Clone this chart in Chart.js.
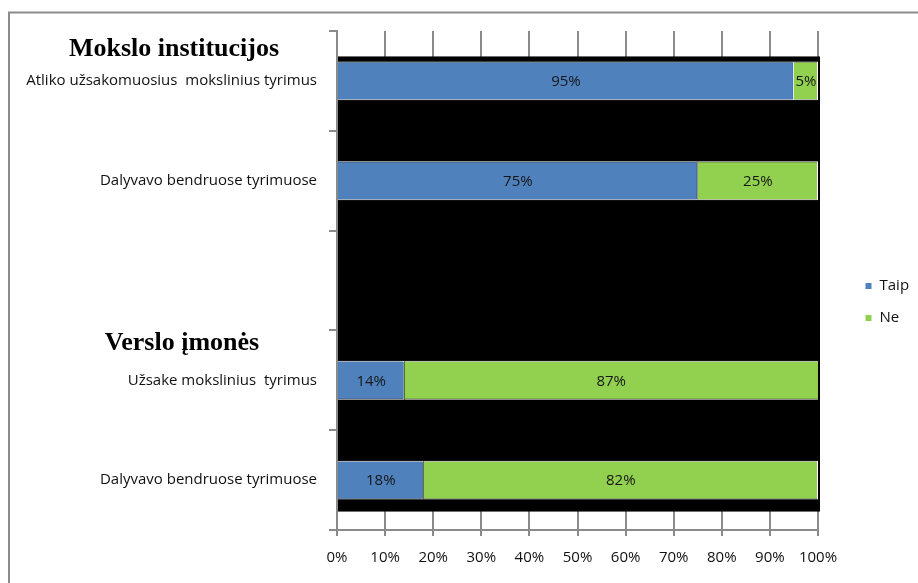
<!DOCTYPE html>
<html lang="lt">
<head>
<meta charset="utf-8">
<title>Užsakomieji ir bendri moksliniai tyrimai</title>
<script src="https://cdn.jsdelivr.net/npm/chart.js@4.4.1/dist/chart.umd.min.js"></script>
<style>
  html, body { margin: 0; padding: 0; background: #fff; }
  #wrap { position: relative; width: 918px; height: 583px; }
</style>
</head>
<body>
<div id="wrap"><canvas id="chart" width="918" height="583"></canvas></div>
<script>
// Survey rows (the empty row separates the two groups)
const categories = [
  'Atliko užsakomuosius  mokslinius tyrimus',
  'Dalyvavo bendruose tyrimuose',
  '',
  'Užsake mokslinius  tyrimus',
  'Dalyvavo bendruose tyrimuose'
];
const taip = [95, 75, null, 14, 18];
const ne = [5, 25, null, 87, 82];
const seriesNames = ['Taip', 'Ne'];
const groupTitles = ['Mokslo institucijos', 'Verslo įmonės'];
const xTicks = [0, 10, 20, 30, 40, 50, 60, 70, 80, 90, 100];

const BLUE = '#4F81BD';
const GREEN = '#92D050';
const AXIS_GRAY = '#8a8a8a';
const LABEL_FONT = { family: '"Open Sans", sans-serif', size: 15 };

// Outer frame and white page
const framePlugin = {
  id: 'frame',
  beforeDraw(chart) {
    const ctx = chart.ctx;
    ctx.save();
    ctx.fillStyle = '#fff';
    ctx.fillRect(0, 0, chart.width, chart.height);
    ctx.strokeStyle = '#8c8c8c';
    ctx.lineWidth = 2;
    ctx.beginPath();
    ctx.moveTo(9, chart.height);
    ctx.lineTo(9, 12.5);
    ctx.lineTo(chart.width, 12.5);
    ctx.stroke();
    ctx.restore();
  }
};

// Dark band behind the bars, sized from the first and last bar
const bandPlugin = {
  id: 'band',
  beforeDatasetsDraw(chart) {
    const bars = chart.getDatasetMeta(0).data.filter(b => b && !isNaN(b.y) && b.height);
    if (!bars.length) return;
    const first = bars[0], last = bars[bars.length - 1];
    const top = first.y - first.height / 2 - 5;
    const bottom = last.y + last.height / 2 + 12;
    const a = chart.chartArea;
    const ctx = chart.ctx;
    ctx.save();
    ctx.fillStyle = '#000';
    ctx.fillRect(a.left + 1, top, a.right - a.left + 1, bottom - top);
    ctx.restore();
  }
};

// Percent labels centred in each segment
const valueLabelPlugin = {
  id: 'valueLabels',
  afterDatasetsDraw(chart) {
    const ctx = chart.ctx;
    ctx.save();
    ctx.font = `${LABEL_FONT.size}px ${LABEL_FONT.family}`;
    ctx.fillStyle = '#161616';
    ctx.textAlign = 'center';
    ctx.textBaseline = 'middle';
    chart.data.datasets.forEach((ds, di) => {
      chart.getDatasetMeta(di).data.forEach((bar, i) => {
        const v = ds.data[i];
        if (v === null || v === undefined) return;
        const left = Math.min(bar.base, bar.x);
        const right = Math.min(Math.max(bar.base, bar.x), chart.chartArea.right);
        ctx.fillText(v + '%', (left + right) / 2, bar.y + 1);
      });
    });
    ctx.restore();
  }
};

// Group headings placed against the category scale
const groupTitlePlugin = {
  id: 'groupTitles',
  afterDraw(chart, args, opts) {
    const y = chart.scales.y;
    const ctx = chart.ctx;
    ctx.save();
    ctx.font = 'bold 26px "Liberation Serif", "Times New Roman", serif';
    ctx.fillStyle = '#000';
    ctx.textAlign = 'center';
    ctx.textBaseline = 'alphabetic';
    groupTitles.forEach((t, i) => {
      const p = opts.places[i];
      ctx.fillText(t, p.x, y.getPixelForValue(p.at));
    });
    ctx.restore();
  }
};

// Legend sits in a fixed-width column to the right of the plot
const legendPlacePlugin = {
  id: 'legendPlace',
  beforeLayout(chart) {
    const lg = chart.legend;
    if (lg && !lg._fixedFit) {
      const fit = lg.fit.bind(lg);
      lg.fit = function () { fit(); this.width = 100; };
      lg._fixedFit = true;
    }
  },
  afterLayout(chart) {
    const lg = chart.legend;
    if (!lg) return;
    lg.left += 30; lg.right += 30;
    lg.top -= 5; lg.bottom -= 5;
  }
};

new Chart(document.getElementById('chart'), {
  type: 'bar',
  data: {
    labels: categories,
    datasets: [
      { label: seriesNames[0], data: taip, backgroundColor: BLUE, borderColor: '#ffffff', borderWidth: 1 },
      { label: seriesNames[1], data: ne, backgroundColor: GREEN, borderColor: '#ffffff', borderWidth: 1 }
    ]
  },
  options: {
    indexAxis: 'y',
    responsive: false,
    animation: false,
    events: [],
    layout: { padding: { top: 31, left: 0, right: 0, bottom: 0 } },
    datasets: { bar: { categoryPercentage: 1, barPercentage: 0.39 } },
    scales: {
      x: {
        stacked: true,
        min: 0,
        max: 100,
        afterBuildTicks(scale) { scale.ticks = xTicks.map(v => ({ value: v })); },
        afterFit(scale) { scale.height = 53; },
        grid: { color: AXIS_GRAY, lineWidth: 2, drawTicks: true, tickLength: 6 },
        border: { display: true, color: AXIS_GRAY, width: 2 },
        ticks: { color: '#111', font: LABEL_FONT, padding: 13, callback: v => v + '%' }
      },
      y: {
        stacked: true,
        afterFit(scale) { scale.width = 337; },
        grid: { offset: true, drawOnChartArea: false, color: AXIS_GRAY, lineWidth: 2, tickLength: 8 },
        border: { display: true, color: AXIS_GRAY, width: 2 },
        ticks: { color: '#111', font: LABEL_FONT, padding: 12, autoSkip: false }
      }
    },
    plugins: {
      legend: {
        position: 'right',
        labels: { boxWidth: 7, boxHeight: 7, padding: 17, color: '#111', font: LABEL_FONT }
      },
      tooltip: { enabled: false },
      groupTitles: { places: [{ x: 174, at: -0.25 }, { x: 182, at: 2.7 }] }
    }
  },
  plugins: [framePlugin, bandPlugin, valueLabelPlugin, groupTitlePlugin, legendPlacePlugin]
});
</script>
</body>
</html>
